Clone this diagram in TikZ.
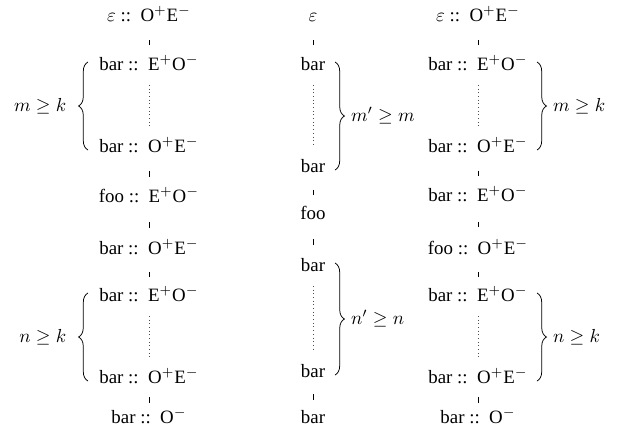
\documentclass[tikz,border=0pt]{standalone}
\usepackage[no-math]{fontspec}
\setmainfont{Liberation Serif}
\usetikzlibrary{calc,decorations.pathreplacing}
\newcommand{\tyOE}{O$^+$E$^-$}
\newcommand{\tyEO}{E$^+$O$^-$}
\tikzset{
  chainitem/.style={inner sep=1pt, text height=1.6ex, text depth=.3ex},
  tick/.style={line width=0.4pt,
    to path={($(\tikztostart)!.5!(\tikztotarget)+(0,0.3pt)$) -- ++(0,-2.8pt)}},
  dots/.style={line width=0.35pt, draw=black!70, dash pattern=on 0.35pt off 1.6pt,
    to path={($(\tikztostart)!10.6pt!(\tikztotarget)$) -- ($(\tikztotarget)!10.6pt!(\tikztostart)$)}},
  brc/.style={decorate, decoration={brace, amplitude=5pt}, line width=0.4pt}
}

\begin{document}
\begin{tikzpicture}[x=0.53pt, y=-0.53pt]
\useasboundingbox (0,0) rectangle (620,436);
\node[chainitem] (lroot) at (149,16) {$\varepsilon$ ::\, \tyOE};
\node[chainitem] (lbarA) at (149,65) {bar ::\, \tyEO};
\node[chainitem] (lbarB) at (149,147) {bar ::\, \tyOE};
\node[chainitem] (lfoo) at (149,197) {foo ::\, \tyEO};
\node[chainitem] (lbarC) at (149,249) {bar ::\, \tyOE};
\node[chainitem] (lbarD) at (149,296) {bar ::\, \tyEO};
\node[chainitem] (lbarE) at (149,378) {bar ::\, \tyOE};
\node[chainitem] (lleaf) at (149,418) {bar ::\, O$^-$};
\node[chainitem] (mroot) at (313,16) {$\varepsilon$};
\node[chainitem] (mbarA) at (313,65) {bar};
\node[chainitem] (mbarB) at (313,167) {bar};
\node[chainitem] (mfoo) at (313,214) {foo};
\node[chainitem] (mbarC) at (313,266) {bar};
\node[chainitem] (mbarD) at (313,372) {bar};
\node[chainitem] (mleaf) at (313,418) {bar};
\node[chainitem] (rroot) at (478,16) {$\varepsilon$ ::\, \tyOE};
\node[chainitem] (rbarA) at (478,65) {bar ::\, \tyEO};
\node[chainitem] (rbarB) at (478,147) {bar ::\, \tyOE};
\node[chainitem] (rbarC) at (478,196) {bar ::\, \tyEO};
\node[chainitem] (rfoo) at (478,249) {foo ::\, \tyOE};
\node[chainitem] (rbarD) at (478,296) {bar ::\, \tyEO};
\node[chainitem] (rbarE) at (478,378) {bar ::\, \tyOE};
\node[chainitem] (rleaf) at (478,418) {bar ::\, O$^-$};
\draw[tick] (lroot) to (lbarA);
\draw[dots] (lbarA) to (lbarB);
\draw[tick] (lbarB) to (lfoo);
\draw[tick] (lfoo) to (lbarC);
\draw[tick] (lbarC) to (lbarD);
\draw[dots] (lbarD) to (lbarE);
\draw[tick] (lbarE) to (lleaf);
\draw[tick] (mroot) to (mbarA);
\draw[dots] (mbarA) to (mbarB);
\draw[tick] (mbarB) to (mfoo);
\draw[tick] (mfoo) to (mbarC);
\draw[dots] (mbarC) to (mbarD);
\draw[tick] (mbarD) to (mleaf);
\draw[tick] (rroot) to (rbarA);
\draw[dots] (rbarA) to (rbarB);
\draw[tick] (rbarB) to (rbarC);
\draw[tick] (rbarC) to (rfoo);
\draw[tick] (rfoo) to (rbarD);
\draw[dots] (rbarD) to (rbarE);
\draw[tick] (rbarE) to (rleaf);
\draw[brc] (88,150) -- (88,62) node[midway, left=8pt] {$m\geq k$};
\draw[brc] (88,381) -- (88,293) node[midway, left=8pt] {$n\geq k$};
\draw[brc] (335,62) -- (335,170) node[midway, right=5pt] {$m'\geq m$};
\draw[brc] (335,263) -- (335,375) node[midway, right=5pt] {$n'\geq n$};
\draw[brc] (537,62) -- (537,150) node[midway, right=5pt] {$m\geq k$};
\draw[brc] (537,293) -- (537,381) node[midway, right=5pt] {$n\geq k$};
\end{tikzpicture}
\end{document}
